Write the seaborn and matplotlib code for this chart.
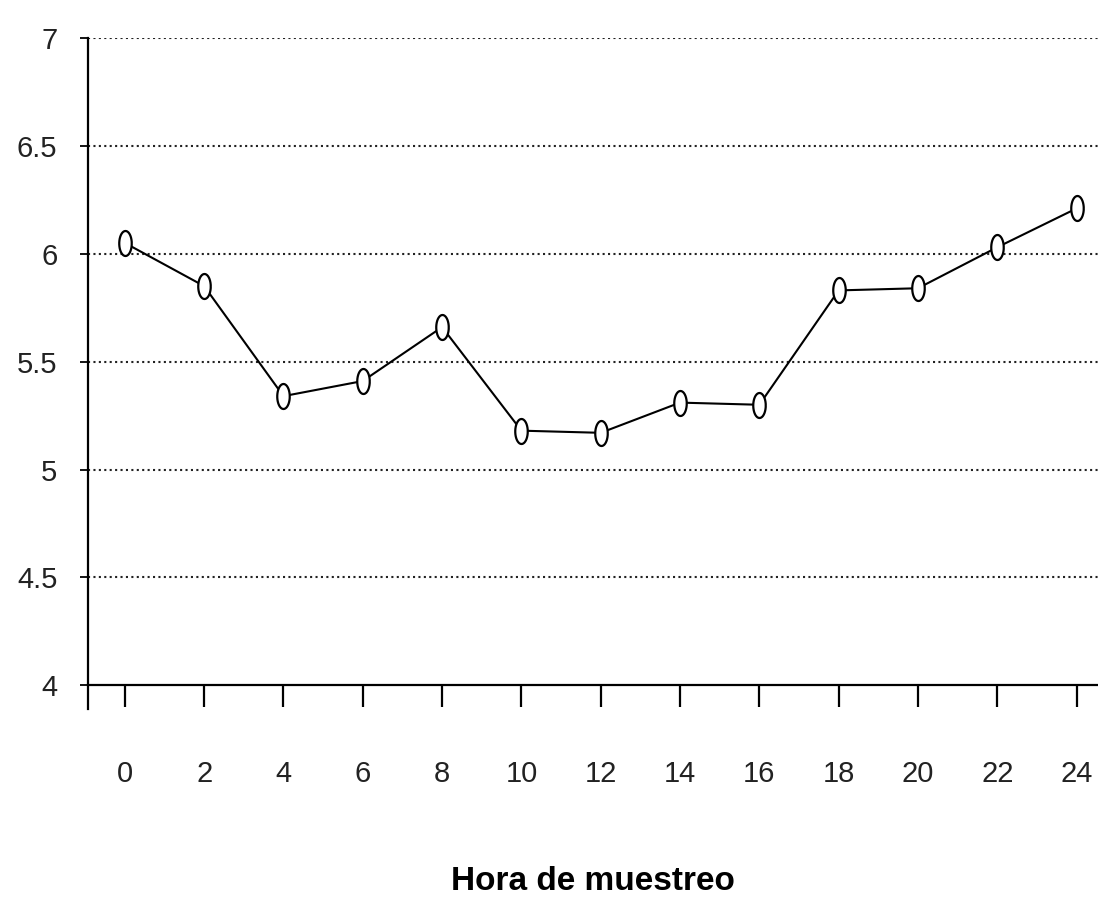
import numpy as np
import pandas as pd
import seaborn as sns
import matplotlib.pyplot as plt

hours = [0, 2, 4, 6, 8, 10, 12, 14, 16, 18, 20, 22, 24]
values = [6.05, 5.85, 5.34, 5.41, 5.66, 5.18, 5.17, 5.31, 5.30, 5.83, 5.84, 6.03, 6.21]
y_ticks = [4, 4.5, 5, 5.5, 6, 6.5, 7]
y_labels = ["4", "4.5", "5", "5.5", "6", "6.5", "7"]

df = pd.DataFrame({"Hora": hours, "Valor": values})

sns.set_style("white")
plt.rcParams["font.family"] = ["Liberation Sans", "DejaVu Sans"]

# tall narrow ellipse marker like the old Excel chart
t = np.linspace(0, 2 * np.pi, 40)
ellipse = list(zip(0.5 * np.cos(t), np.sin(t)))

fig = plt.figure(figsize=(10.98, 9.19), dpi=100)
ax = fig.add_axes([0.0801, 0.2285, 0.9199, 0.7302])

sns.lineplot(data=df, x="Hora", y="Valor", ax=ax, color="black", linewidth=1.5,
             marker=ellipse, markersize=18, markerfacecolor="white",
             markeredgecolor="black", markeredgewidth=1.6, zorder=3)

ax.set_xlim(-0.93, 24.54)
ax.set_ylim(3.89, 7)
ax.set_yticks(y_ticks)
ax.set_yticklabels(y_labels)
ax.set_xticks(hours)
ax.set_xticklabels([str(h) for h in hours])

for y in y_ticks[1:]:
    ax.axhline(y, color="#222222", linestyle=(0, (1, 1.6)), linewidth=1.5, zorder=1)

sns.despine(ax=ax, top=True, right=True)
ax.spines["bottom"].set_position(("data", 4))
ax.spines["bottom"].set_linewidth(1.6)
ax.spines["left"].set_linewidth(1.6)
ax.spines["bottom"].set_color("black")
ax.spines["left"].set_color("black")

ax.tick_params(axis="x", direction="out", length=16, width=1.6, pad=38,
               labelsize=21, labelcolor="#222222", color="black", bottom=True)
ax.tick_params(axis="y", direction="out", length=6, width=1.3, pad=16,
               labelsize=21, labelcolor="#222222", color="black", left=True)

ax.set_ylabel("")
ax.set_xlabel("Hora de muestreo", fontsize=24, fontweight="bold", color="black",
              labelpad=56)

plt.savefig("out.png", dpi=100)
plt.close()
